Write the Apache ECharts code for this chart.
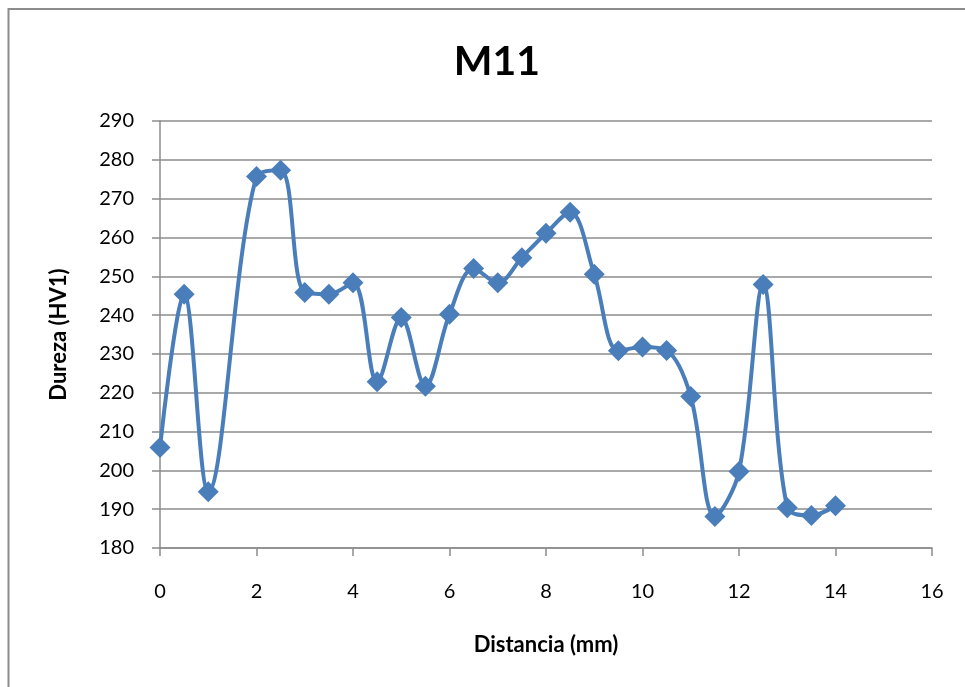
<!DOCTYPE html>
<html>
<head>
<meta charset="utf-8">
<script src="https://cdn.jsdelivr.net/npm/echarts@6/dist/echarts.min.js"></script>
<style>
  html, body { margin: 0; padding: 0; background: #fff; }
  #chart { width: 965px; height: 687px; }
</style>
</head>
<body>
<div id="chart"></div>
<script>
// Hardness profile along the specimen
const distancia = [0, 0.5, 1, 2, 2.5, 3, 3.5, 4, 4.5, 5, 5.5, 6, 6.5, 7, 7.5,
                   8, 8.5, 9, 9.5, 10, 10.5, 11, 11.5, 12, 12.5, 13, 13.5, 14];
const dureza = [205.9, 245.4, 194.5, 275.7, 277.3, 245.8, 245.4, 248.3, 222.8, 239.4, 221.7, 240.2, 252.0, 248.3, 254.8,
                261.1, 266.5, 250.5, 230.8, 231.8, 230.9, 219.0, 188.1, 199.7, 247.9, 190.4, 188.4, 190.9];
const xTicks = { min: 0, max: 16, step: 2 };
const yTicks = { min: 180, max: 290, step: 10 };

const points = distancia.map((d, i) => [d, dureza[i]]);

const FONT = 'Lato, "Open Sans", sans-serif';
const GRID_GREY = '#8c8c8c';
const BLUE = '#4a7ebb';

const chart = echarts.init(document.getElementById('chart'), null, { renderer: 'canvas' });
chart.setOption({
  backgroundColor: '#ffffff',
  animation: false,
  title: {
    text: 'M11',
    left: 492,
    top: 36,
    textAlign: 'center',
    textStyle: { fontFamily: FONT, fontWeight: 'bold', fontSize: 41, color: '#000' }
  },
  graphic: [{
    type: 'rect',
    shape: { x: 8.5, y: 9, width: 1000, height: 1000 },
    style: { fill: 'none', stroke: GRID_GREY, lineWidth: 2 },
    silent: true
  }],
  grid: { left: 160, right: 33, top: 121, bottom: 139, containLabel: false },
  xAxis: {
    type: 'value',
    min: xTicks.min, max: xTicks.max, interval: xTicks.step,
    name: 'Distancia (mm)',
    nameLocation: 'middle',
    nameGap: 86,
    nameTextStyle: { fontFamily: FONT, fontWeight: 'bold', fontSize: 22, color: '#000' },
    axisLine: { show: true, onZero: false, lineStyle: { color: GRID_GREY, width: 1.5 } },
    axisTick: { show: true, length: 8, lineStyle: { color: GRID_GREY, width: 1.5 } },
    axisLabel: { margin: 34, fontFamily: FONT, fontSize: 20, color: '#000' },
    splitLine: { show: false }
  },
  yAxis: {
    type: 'value',
    min: yTicks.min, max: yTicks.max, interval: yTicks.step,
    name: 'Dureza (HV1)',
    nameLocation: 'middle',
    nameRotate: 90,
    nameGap: 90,
    nameTextStyle: { fontFamily: FONT, fontWeight: 'bold', fontSize: 22, color: '#000' },
    axisLine: { show: true, lineStyle: { color: GRID_GREY, width: 1.5 } },
    axisTick: { show: true, length: 8, lineStyle: { color: GRID_GREY, width: 1.5 } },
    axisLabel: { margin: 26, fontFamily: FONT, fontSize: 20, color: '#000' },
    splitLine: { show: true, lineStyle: { color: GRID_GREY, width: 1.5 } }
  },
  series: [{
    type: 'line',
    data: points,
    smooth: 0.35,
    symbol: 'diamond',
    symbolSize: 21,
    lineStyle: { color: BLUE, width: 4 },
    itemStyle: { color: BLUE },
    z: 3
  }]
});
</script>
</body>
</html>
